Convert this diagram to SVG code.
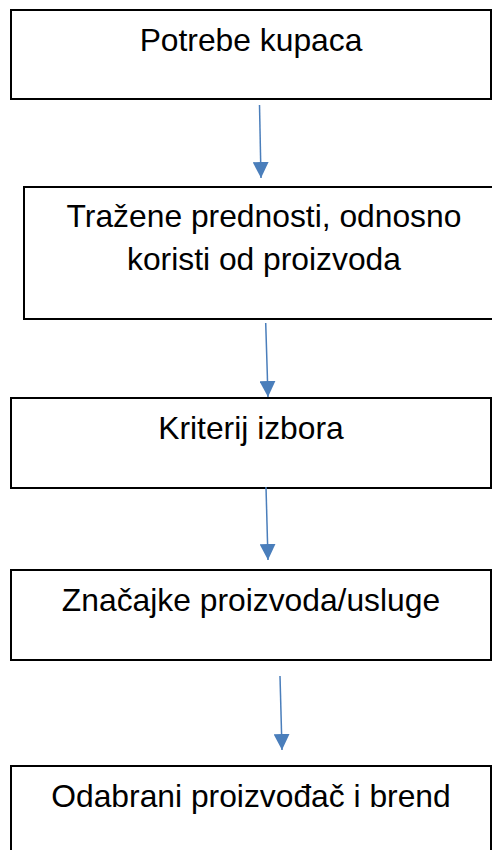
<svg xmlns="http://www.w3.org/2000/svg" width="492" height="850" viewBox="0 0 492 850">
<style>
.box{fill:#fff;stroke:#000;stroke-width:2}
.t{font-family:"Liberation Sans",Arial,sans-serif;font-size:31.8px;fill:#000;text-anchor:middle}
.c{stroke:#4a7ebb;stroke-width:1.5;fill:none}
</style>
<defs>
<marker id="ah" markerUnits="userSpaceOnUse" markerWidth="16" markerHeight="16" viewBox="0 0 16 16" refX="16" refY="8" orient="auto">
<path d="M0,0 L16,8 L0,16 Z" fill="#4a7ebb"/>
</marker>
</defs>
<rect width="492" height="850" fill="#fff"/>
<g id="n1"><rect class="box" x="11" y="10" width="480" height="89"/><text class="t" x="251" y="51">Potrebe kupaca</text></g>
<g id="n2"><rect class="box" x="24" y="187" width="480" height="132"/><text class="t" x="264" y="227">Tražene prednosti, odnosno</text><text class="t" x="264" y="270">koristi od proizvoda</text></g>
<g id="n3"><rect class="box" x="11" y="398" width="480" height="90"/><text class="t" x="251" y="439">Kriterij izbora</text></g>
<g id="n4"><rect class="box" x="11" y="570" width="480" height="90"/><text class="t" x="251" y="611">Značajke proizvoda/usluge</text></g>
<g id="n5"><rect class="box" x="11" y="766" width="480" height="100"/><text class="t" x="251" y="807">Odabrani proizvođač i brend</text></g>
<g id="connectors">
<line class="c" x1="259.5" y1="105" x2="261" y2="178" marker-end="url(#ah)"/>
<line class="c" x1="265.7" y1="323" x2="268" y2="397" marker-end="url(#ah)"/>
<line class="c" x1="266" y1="487" x2="268" y2="560" marker-end="url(#ah)"/>
<line class="c" x1="280" y1="676" x2="282" y2="750" marker-end="url(#ah)"/>
</g>
</svg>
